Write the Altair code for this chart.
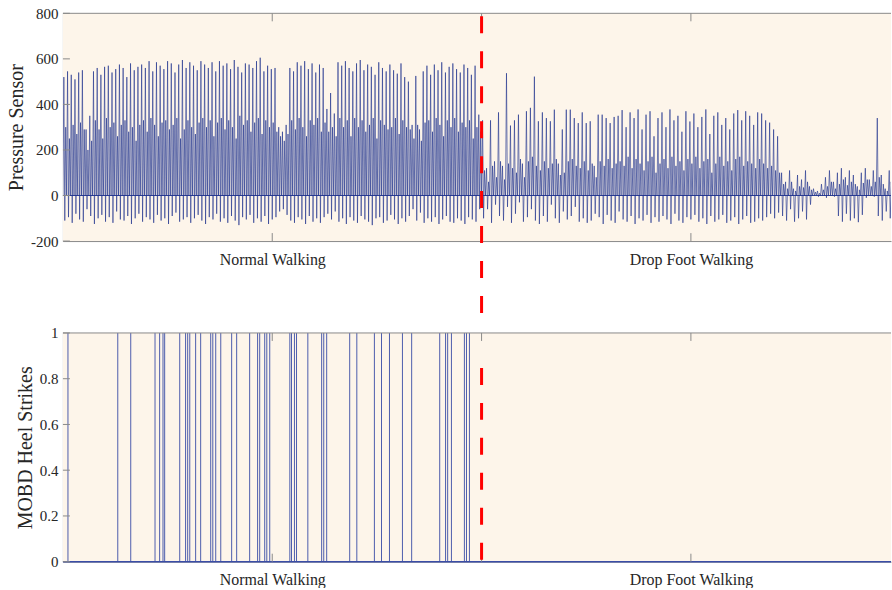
import altair as alt
import pandas as pd

# ---------------- data ----------------
# Normal walking: one entry per stride (peak, secondary peak, trough)
normal_peak = [
    520, 545, 530, 510, 540, 550,
    290, 350,
    545, 560, 530, 565, 570, 540, 555, 575, 560, 520, 580, 550, 565,
    575, 560, 590, 545, 585, 570, 555, 590, 580, 540, 575, 595, 560, 585, 570, 550,
    590, 575, 560, 585, 545, 590, 570, 580, 555, 595, 565, 540, 580, 575, 560, 590, 605, 545, 570, 555, 560,
    300, 280, 310,
    560, 545, 585, 570, 590, 555, 580, 540, 575, 560,
    380, 450, 360,
    585, 570, 590, 560, 545, 580, 595, 550, 575, 565, 530, 585, 560, 545, 575, 550, 535, 580, 520,
    500, 310, 525, 290,
    545, 570, 530, 575, 550, 585, 540, 565, 580, 555, 540, 575, 560, 530, 570, 355,
]
normal_mid = [
    300, 250, 310, 270, 320, 290,
    200, 240,
    330, 290, 250, 340, 300, 320, 260, 310, 330, 280, 300, 240, 310,
    330, 280, 340, 310, 260, 320, 330, 290, 310, 340, 250, 290, 330, 300, 270, 320,
    340, 300, 330, 260, 320, 340, 290, 330, 300, 250, 350, 310, 330, 280, 320, 340, 270, 330, 300, 320, 280,
    260, 240, 270,
    330, 290, 340, 300, 260, 330, 310, 340, 280, 320,
    280, 300, 260,
    340, 300, 330, 260, 340, 300, 330, 280, 310, 340, 250, 330, 310, 290, 300, 340, 270, 330, 300,
    290, 250, 310, 240,
    320, 330, 280, 340, 310, 260, 330, 300, 340, 280, 320, 300, 330, 250, 300, 280,
]
normal_trough = [
    -110, -95, -120, -80, -105, -115,
    -60, -90,
    -125, -100, -85, -115, -95, -120, -70, -105, -110, -90, -125, -100, -80,
    -115, -95, -105, -120, -85, -110, -100, -125, -90, -75, -115, -105, -95, -120, -100, -85,
    -110, -125, -95, -105, -80, -115, -100, -120, -90, -110, -130, -95, -105, -85, -120, -100, -115, -90, -125, -105, -95,
    -70, -60, -85,
    -110, -120, -95, -105, -125, -90, -115, -100, -120, -95,
    -80, -105, -70,
    -115, -100, -125, -95, -110, -120, -90, -105, -115, -130, -100, -95, -120, -110, -85, -105, -125, -100, -115,
    -90, -60, -110, -75,
    -120, -100, -115, -95, -125, -105, -90, -115, -120, -100, -110, -125, -95, -105, -115, -60,
]

# Drop foot walking: one entry per stride
drop_peak = [
    330, 120, 330, 150, 365, 130, 537, 307, 330, 355,
    140, 370, 385, 522, 326, 365, 340, 326, 377, 140,
    290, 377, 377, 340, 318, 365, 318, 326, 130, 355,
    355, 340, 318, 345,
    350, 375, 300, 365, 340, 378, 290, 355, 370, 260,
    340, 365, 300, 378, 330, 350, 280, 370, 325, 360,
    300, 345, 378, 270, 350, 365, 310, 340, 290, 360,
    375, 330, 370, 350, 310, 365, 360, 330, 320, 290, 260,
    100, 60, 110, 30, 90, 70, 110, 40, 30, 20,
    50, 80, 110, 60, 100, 120, 80, 110, 90, 40,
    100, 120, 70, 110, 340, 90, 30, 110, 100, 120,
]
drop_mid = [
    110, 60, 130, 80, 150, 70, 140, 120, 100, 160,
    80, 150, 170, 130, 110, 150, 120, 140, 160, 90,
    100, 150, 160, 130, 120, 150, 110, 140, 80, 150,
    130, 160, 120, 140,
    150, 130, 170, 120, 160, 140, 110, 150, 170, 100,
    140, 160, 120, 170, 130, 150, 110, 160, 140, 170,
    120, 150, 160, 100, 140, 170, 130, 150, 110, 160,
    170, 130, 150, 140, 120, 160, 140, 120, 130, 110, 100,
    50, 30, 60, 20, 40, 35, 60, 25, 15, 10,
    25, 40, 60, 30, 50, 70, 45, 60, 50, 25,
    55, 70, 40, 60, 80, 50, 20, 60, 55, 70,
]
drop_trough = [
    -100, -60, -120, -40, -90, -110, -50, -120, -80, -30,
    -115, -95, -60, -110, -125, -90, -115, -40, -100, -120,
    -70, -105, -90, -50, -115, -100, -120, -110, -80, -95,
    -125, -85, -110, -120,
    -70, -105, -115, -90, -125, -100, -110, -85, -120, -95,
    -115, -90, -105, -125, -80, -110, -120, -95, -105, -85,
    -115, -100, -125, -90, -115, -105, -85, -120, -110, -95,
    -125, -105, -90, -120, -115, -100, -110, -95, -80, -100, -75,
    -90, -110, -60, -115, -100, -70, -105, -40, 0, -5,
    0, -10, 0, -5, -90, -115, -80, -110, -100, -117,
    -85, -10, 0, -5, -90, -110, -70, -100, -80, -60,
]

# MOBD heel-strike detections (time positions, same axis units)
heel_strikes = [
    12, 131, 162, 220, 231, 239, 243, 279, 293, 298, 303, 317, 329,
    353, 358, 365, 377, 403, 415, 446, 465, 470, 482, 487, 494,
    542, 546, 553, 558, 585, 618, 623, 630, 685, 702, 744, 761, 780,
    811, 833, 900, 914, 919, 928, 959, 964, 971,
]

pressure_ticks = [-200, 0, 200, 400, 600, 800]
mobd_ticks = [0, 0.2, 0.4, 0.6, 0.8, 1]
phase_ticks = [500, 1000, 1500]
phase_names = ["Normal Walking", "Drop Foot Walking"]
boundary = [1000]

# ---------------- build the signal table ----------------
def strides(peaks, mids, troughs, start, span):
    rows = []
    step = span / len(peaks)
    for i, (p, m, t) in enumerate(zip(peaks, mids, troughs)):
        x0 = start + i * step
        for k, v in enumerate([0, p, t, m]):
            rows.append({"t": x0 + k * step / 4.0, "v": v})
    return rows

rows = strides(normal_peak, normal_mid, normal_trough, 0, 1000)
rows += strides(drop_peak, drop_mid, drop_trough, 1000, 1000)
signal_df = pd.DataFrame(rows)

# ---------------- styling ----------------
FONT = "Liberation Serif"
TXT = "#262626"
AX = "#8a8a8a"
BG = "#FDF5EA"
BLUE = "#1A2E8C"
BLUE2 = "#3A4DA6"
X_MAX = 1978
W = 829
H1 = 228
H2 = 229
GAP = 90

label_expr = (f"datum.value == 500 ? '{phase_names[0]}' : "
              f"(datum.value == 1500 ? '{phase_names[1]}' : '')")

xscale = alt.Scale(domain=[0, X_MAX], nice=False, zero=False)
x_axis = alt.Axis(values=[500, 1500], labelExpr=label_expr, ticks=False, grid=False,
                  domainColor=AX, labelFontSize=16, labelPadding=10, title=None,
                  labelFont=FONT, labelColor=TXT)
X = alt.X("t:Q", scale=xscale, axis=x_axis)

y1_axis = alt.Axis(values=pressure_ticks, labelExpr="'' + datum.value", ticks=False,
                   grid=False, domainColor=AX, labelFontSize=15, labelPadding=5,
                   labelFont=FONT, labelColor=TXT,
                   title="Pressure Sensor", titleFontSize=20, titlePadding=4,
                   titleFont=FONT, titleColor=TXT, titleFontWeight="normal")
Y1 = alt.Y("v:Q", scale=alt.Scale(domain=[-200, 800], nice=False, zero=False), axis=y1_axis)

y2_axis = alt.Axis(values=mobd_ticks, format="~g", ticks=False, grid=False,
                   domainColor=AX, labelFontSize=15, labelPadding=5,
                   labelFont=FONT, labelColor=TXT,
                   title="MOBD Heel Strikes", titleFontSize=20, titlePadding=4,
                   titleFont=FONT, titleColor=TXT, titleFontWeight="normal")
Y2 = alt.Y("v:Q", scale=alt.Scale(domain=[0, 1], nice=False, zero=False), axis=y2_axis)

one = pd.DataFrame({"t": boundary, "v": [0]})
xt = pd.DataFrame({"t": phase_ticks})


def background(h):
    return alt.Chart(one).mark_rect(color=BG).encode(
        x=alt.value(0), x2=alt.value(W), y=alt.value(0), y2=alt.value(h))


# ---------------- top panel ----------------
bg1 = background(H1)
sig = alt.Chart(signal_df).mark_line(color=BLUE, strokeWidth=0.75, opacity=0.8, clip=True).encode(
    x=X, y=Y1)
zero1 = alt.Chart(one).mark_rule(color=BLUE, strokeWidth=1.2, opacity=0.9).encode(y=Y1)
top_border1 = alt.Chart(one).mark_rule(color=AX, strokeWidth=1).encode(
    x=alt.value(0), x2=alt.value(W), y=alt.value(0))
yt1 = alt.Chart(pd.DataFrame({"v": pressure_ticks})).mark_rule(color=AX).encode(
    y=Y1, x=alt.value(0), x2=alt.value(7))
xt1b = alt.Chart(xt).mark_rule(color=AX).encode(x=X, y=alt.value(H1), y2=alt.value(H1 - 8))
xt1t = alt.Chart(xt).mark_rule(color=AX).encode(x=X, y=alt.value(0), y2=alt.value(8))
red1 = alt.Chart(one).mark_rule(color="#FF0000", strokeWidth=3, strokeDash=[17, 18],
                                strokeDashOffset=32, clip=False).encode(
    x=X, y=alt.value(0), y2=alt.value(H1 + GAP))

top = alt.layer(bg1, sig, zero1, top_border1, yt1, xt1b, xt1t, red1).properties(width=W, height=H1)

# ---------------- bottom panel ----------------
bg2 = background(H2)
hs_df = pd.DataFrame({"t": heel_strikes, "v": [0] * len(heel_strikes), "v1": [1] * len(heel_strikes)})
hs = alt.Chart(hs_df).mark_rule(color=BLUE2, strokeWidth=1, opacity=0.9).encode(
    x=X, y=Y2, y2="v1:Q")
zero2 = alt.Chart(one).mark_rule(color=BLUE2, strokeWidth=1.5).encode(y=Y2)
top_border2 = alt.Chart(one).mark_rule(color=AX, strokeWidth=1).encode(
    x=alt.value(0), x2=alt.value(W), y=alt.value(0))
yt2 = alt.Chart(pd.DataFrame({"v": mobd_ticks})).mark_rule(color=AX).encode(
    y=Y2, x=alt.value(0), x2=alt.value(7))
xt2b = alt.Chart(xt).mark_rule(color=AX).encode(x=X, y=alt.value(H2), y2=alt.value(H2 - 8))
xt2t = alt.Chart(xt).mark_rule(color=AX).encode(x=X, y=alt.value(0), y2=alt.value(8))
red2 = alt.Chart(one).mark_rule(color="#FF0000", strokeWidth=3, strokeDash=[17, 18],
                                clip=False).encode(
    x=X, y=alt.value(35), y2=alt.value(H2))

bottom = alt.layer(bg2, hs, zero2, top_border2, yt2, xt2b, xt2t, red2).properties(width=W, height=H2)

chart = alt.vconcat(top, bottom, spacing=GAP + 2, bounds="flush").properties(
    padding={"left": 6, "top": 6, "right": 0, "bottom": 0},
    background="white"
).configure_view(stroke=None)

chart.save("out.html", embed_options={"renderer": "svg", "actions": False})
